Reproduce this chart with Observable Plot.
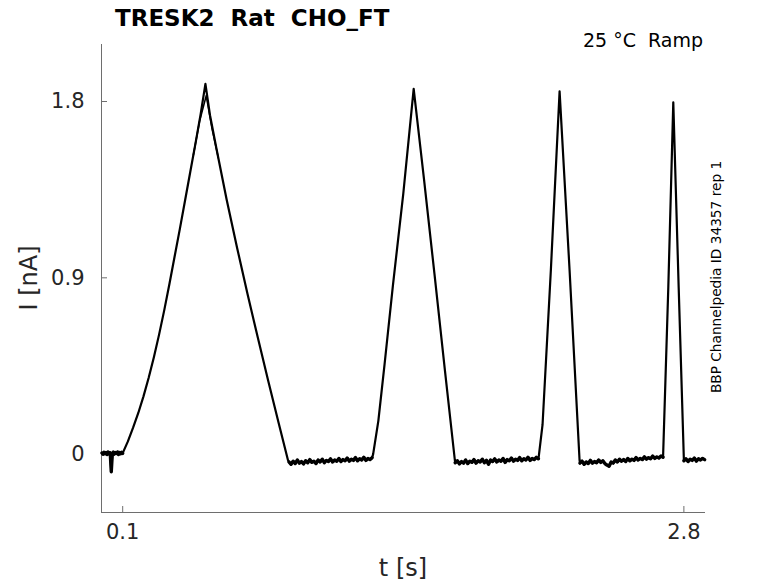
<!DOCTYPE html>
<html><head><meta charset="utf-8">
<script src="https://cdn.jsdelivr.net/npm/d3@7"></script>
<script src="https://cdn.jsdelivr.net/npm/@observablehq/plot@0.6"></script>
<style>body{margin:0;background:#fff} svg{display:block}</style>
</head><body><div id="chart"></div>
<script>
// tick labels
const xTicks = [0.1, 2.8];
const yTicks = [0, 0.9, 1.8];
const xDomain = [-0.002, 2.904];
const yDomain = [-0.298, 2.091];

// baseline samples (nA), regular sampling
const base0Start = 0.0, base0Step = 0.005;
const base0 = [0.006, 0.000, 0.010, 0.002, 0.008, -0.002, 0.011, 0.003, 0.007, -0.090, 0.002, 0.010, 0.000, 0.008, 0.004, 0.011, -0.002, 0.008, 0.002, 0.009, 0.004];
const base1Start = 0.90, base1Step = 0.01;
const base1 = [-0.040, -0.052, -0.036, -0.048, -0.030, -0.046, -0.038, -0.050, -0.034, -0.044,
  -0.028, -0.042, -0.036, -0.048, -0.030, -0.040, -0.026, -0.044, -0.032, -0.038,
  -0.024, -0.040, -0.030, -0.036, -0.022, -0.038, -0.028, -0.034, -0.020, -0.036,
  -0.026, -0.032, -0.018, -0.034, -0.024, -0.030, -0.016, -0.032, -0.022, -0.028, -0.018];
const base2Start = 1.70, base2Step = 0.01;
const base2 = [-0.044, -0.034, -0.050, -0.038, -0.046, -0.030, -0.048, -0.036, -0.042, -0.028,
  -0.046, -0.034, -0.040, -0.026, -0.044, -0.032, -0.052, -0.030, -0.038, -0.024,
  -0.040, -0.030, -0.036, -0.022, -0.042, -0.028, -0.034, -0.020, -0.036, -0.026,
  -0.032, -0.018, -0.034, -0.024, -0.030, -0.016, -0.032, -0.022, -0.028, -0.016, -0.024];
const base3Start = 2.30, base3Step = 0.01;
const base3 = [-0.046, -0.036, -0.052, -0.040, -0.048, -0.032, -0.046, -0.038, -0.044, -0.030,
  -0.042, -0.034, -0.048, -0.056, -0.062, -0.040, -0.046, -0.030, -0.040, -0.026,
  -0.036, -0.028, -0.038, -0.022, -0.034, -0.026, -0.032, -0.018, -0.030, -0.022,
  -0.028, -0.014, -0.026, -0.018, -0.024, -0.010, -0.022, -0.014, -0.020, -0.010, -0.016];
const base4Start = 2.80, base4Step = 0.01;
const base4 = [-0.034, -0.024, -0.038, -0.026, -0.032, -0.020, -0.036, -0.024, -0.030, -0.022, -0.028];

// ramp responses [t (s), I (nA)]
const ramp1 = [[0.100,0.005],[0.125,0.065],[0.15,0.135],[0.175,0.21],[0.20,0.295],[0.225,0.39],[0.25,0.495],[0.275,0.61],[0.30,0.735],[0.325,0.87],[0.35,1.01],[0.375,1.15],[0.40,1.295],[0.425,1.44],[0.45,1.585],[0.475,1.735],[0.498,1.89],
  [0.52,1.73],[0.55,1.565],[0.60,1.30],[0.65,1.055],[0.70,0.82],[0.75,0.595],[0.80,0.375],[0.85,0.16],[0.895,-0.03]];
const ramp2 = [[1.305,0.0],[1.33,0.17],[1.36,0.46],[1.40,0.86],[1.45,1.33],[1.50,1.865],[1.55,1.40],[1.60,0.92],[1.65,0.43],[1.698,-0.03]];
const ramp3 = [[2.102,-0.01],[2.12,0.15],[2.16,0.94],[2.202,1.852],[2.25,0.94],[2.298,-0.03]];
const ramp4 = [[2.70,-0.01],[2.725,0.85],[2.749,1.796],[2.775,0.85],[2.80,-0.03]];
// second repetition visible near the first peak tip
const ramp1Rep = [[0.44,1.527],[0.47,1.70],[0.502,1.83],[0.53,1.66],[0.56,1.512]];

const seq = (t0, dt, vals, seg) => vals.map((v, i) => ({t: +(t0 + i * dt).toFixed(4), I: v, seg}));
const pairs = arr => arr.map(([t, I]) => ({t, I}));

const baselines = [
  ...seq(base0Start, base0Step, base0, 0), ...seq(base1Start, base1Step, base1, 1),
  ...seq(base2Start, base2Step, base2, 2), ...seq(base3Start, base3Step, base3, 3),
  ...seq(base4Start, base4Step, base4, 4)
];
const trace = [
  ...seq(base0Start, base0Step, base0), ...pairs(ramp1),
  ...seq(base1Start, base1Step, base1), ...pairs(ramp2),
  ...seq(base2Start, base2Step, base2), ...pairs(ramp3),
  ...seq(base3Start, base3Step, base3), ...pairs(ramp4),
  ...seq(base4Start, base4Step, base4)
];

const W = 778, H = 583;
const mL = 101, mR = 73, mT = 44, mB = 71;
const axisColor = "#6e6e6e", textColor = "#262626";
const plot = Plot.plot({
  width: W, height: H,
  marginLeft: mL, marginRight: mR, marginTop: mT, marginBottom: mB,
  style: {fontFamily: "DejaVu Sans", background: "white", overflow: "visible"},
  x: {domain: xDomain},
  y: {domain: yDomain},
  marks: [
    Plot.axisX({ticks: xTicks, tickSize: 0, tickPadding: 12, tickFormat: d => String(d), fontSize: 21, label: null, fill: textColor}),
    Plot.axisY({ticks: yTicks, tickSize: 0, tickPadding: 17, tickFormat: d => String(d), fontSize: 21, label: null, fill: textColor}),
    Plot.ruleX([xDomain[0]], {stroke: axisColor, strokeWidth: 1}),
    Plot.ruleY([yDomain[0]], {stroke: axisColor, strokeWidth: 1}),
    Plot.tickX(xTicks, {x: d => d, stroke: axisColor, insetTop: H - mT - mB - 6}),
    Plot.tickY(yTicks, {y: d => d, stroke: axisColor, insetRight: W - mL - mR - 6}),
    Plot.line(trace, {x: "t", y: "I", stroke: "black", strokeWidth: 2.2, strokeLinejoin: "round"}),
    Plot.line(baselines, {x: "t", y: "I", z: "seg", stroke: "black", strokeWidth: 3.4, strokeLinejoin: "round"}),
    Plot.line(pairs(ramp1Rep), {x: "t", y: "I", stroke: "black", strokeWidth: 1.6})
  ]
});

const svg = d3.select(plot);
svg.append("text").attr("x", 115).attr("y", 26).attr("text-anchor", "start").attr("font-family", "DejaVu Sans").attr("font-weight", "bold").attr("font-size", 23).attr("fill", "black").text("TRESK2  Rat  CHO_FT");
svg.append("text").attr("x", 703).attr("y", 47).attr("text-anchor", "end").attr("font-family", "DejaVu Sans").attr("font-size", 19).attr("fill", "black").text("25 °C  Ramp");
svg.append("text").attr("transform", "translate(721,277) rotate(-90)").attr("text-anchor", "middle").attr("font-family", "DejaVu Sans").attr("font-size", 13.7).attr("fill", "black").text("BBP Channelpedia ID 34357 rep 1");
svg.append("text").attr("x", 403).attr("y", 576).attr("text-anchor", "middle").attr("font-family", "DejaVu Sans").attr("font-size", 24).attr("fill", textColor).text("t [s]");
svg.append("text").attr("transform", "translate(37,278) rotate(-90)").attr("text-anchor", "middle").attr("font-family", "DejaVu Sans").attr("font-size", 24).attr("fill", textColor).text("I [nA]");

document.getElementById("chart").appendChild(plot);
</script>
</body></html>
